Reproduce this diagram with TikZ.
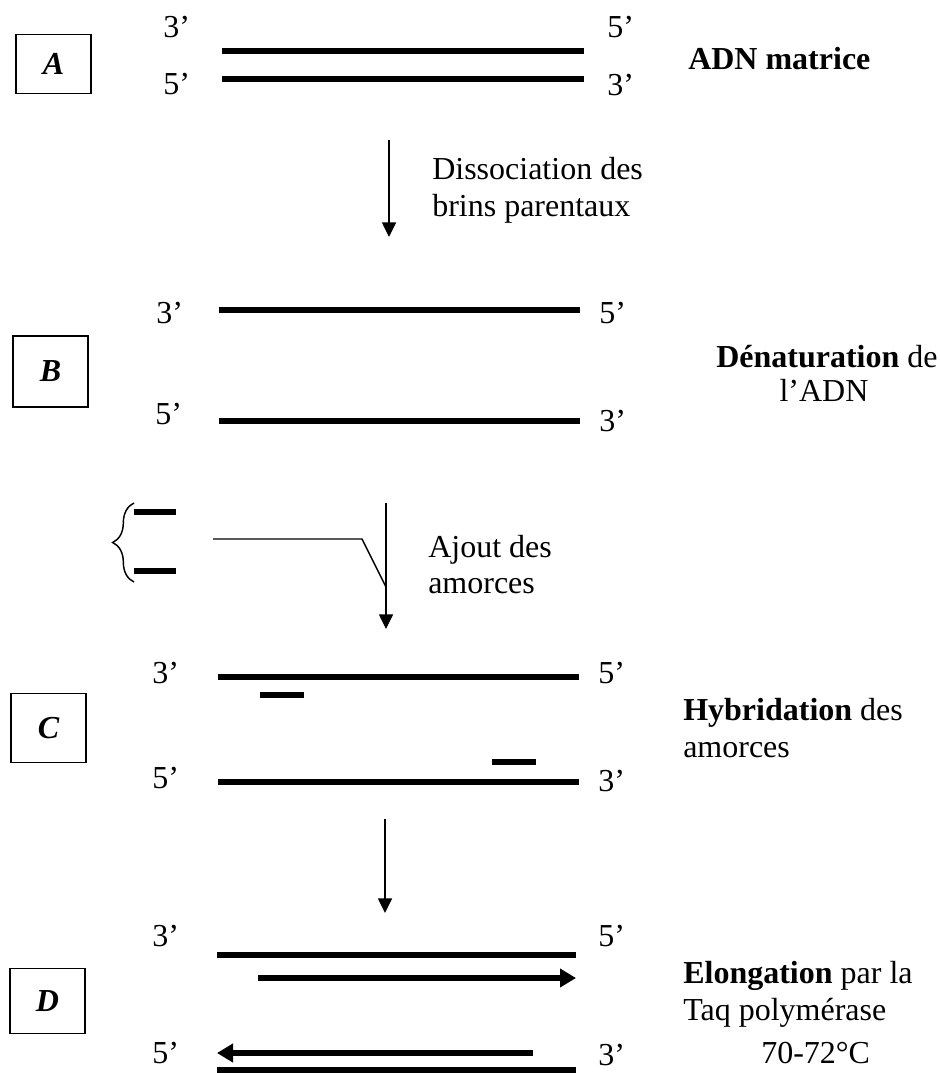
\documentclass[tikz,border=0pt]{standalone}
\usepackage{fontspec}
\setmainfont{Liberation Serif}
\usetikzlibrary{arrows.meta,decorations.pathreplacing}

\begin{document}
\begin{tikzpicture}[x=0.75pt,y=-0.75pt,
  txt/.style={anchor=base west, inner sep=0pt, font=\fontsize{24}{27}\selectfont},
  ctxt/.style={anchor=base, inner sep=0pt, font=\fontsize{24}{27}\selectfont},
  stepbox/.style={draw, line width=1.1pt, minimum width=56pt, inner sep=0pt,
                  font=\fontsize{24}{27}\selectfont\bfseries\itshape},
  strand/.style={line width=4.8pt},
  primer/.style={line width=3.9pt},
  newstrand/.style={line width=3.8pt, -{Triangle[width=13.5pt,length=12pt]}},
  flow/.style={line width=1.1pt, -{Triangle[width=10.5pt,length=11pt]}},
  thin/.style={line width=1.1pt}]
\useasboundingbox (0,0) rectangle (939,1073);

% ---------- A : template DNA ----------
\node[stepbox, minimum height=44pt] (boxA) at (53.5,64) {A};
\node[txt] (a3l) at (163,38) {3’};
\node[txt] (a5l) at (163,95) {5’};
\node[txt] (a5r) at (607,38) {5’};
\node[txt] (a3r) at (607,96) {3’};
\coordinate (a1s) at (222,51);  \coordinate (a1e) at (584,51);
\coordinate (a2s) at (222,79);  \coordinate (a2e) at (584,79);
\draw[strand] (a1s) -- (a1e);
\draw[strand] (a2s) -- (a2e);
\node[txt, font=\fontsize{24}{27}\selectfont\bfseries] (titleA) at (688,70) {ADN matrice};

% ---------- arrow A -> B ----------
\coordinate (f1s) at (389,140); \coordinate (f1e) at (389,237);
\draw[flow] (f1s) -- (f1e);
\node[txt] (f1a) at (432,180) {Dissociation des};
\node[txt] (f1b) at (432,217) {brins parentaux};

% ---------- B : denaturation ----------
\node[stepbox, minimum height=53pt] (boxB) at (50.5,371.5) {B};
\node[txt] (b3l) at (156,323) {3’};
\node[txt] (b5r) at (599,323) {5’};
\node[txt] (b5l) at (155,424) {5’};
\node[txt] (b3r) at (599,431) {3’};
\coordinate (b1s) at (219,310); \coordinate (b1e) at (580,310);
\coordinate (b2s) at (219,421); \coordinate (b2e) at (580,421);
\draw[strand] (b1s) -- (b1e);
\draw[strand] (b2s) -- (b2e);
\node[txt, font=\fontsize{24}{27}\selectfont] (titleB1) at (716,367) {\textbf{Dénaturation} de};
\node[ctxt] (titleB2) at (824,401) {l’ADN};

% ---------- primers added ----------
\draw[thin, decorate, decoration={brace, amplitude=16pt}] (134,582) -- (134,503);
\coordinate (p1s) at (134,512); \coordinate (p1e) at (176,512);
\coordinate (p2s) at (134,571); \coordinate (p2e) at (176,571);
\draw[line width=4.3pt] (p1s) -- (p1e);
\draw[line width=4.3pt] (p2s) -- (p2e);
\coordinate (f2s) at (386,503); \coordinate (f2e) at (386,629);
\coordinate (j0) at (213,539); \coordinate (j1) at (362,539); \coordinate (j2) at (386,587);
\draw[thin] (j0) -- (j1) -- (j2);
\draw[flow] (f2s) -- (f2e);
\node[txt] (f2a) at (428,557) {Ajout des};
\node[txt] (f2b) at (428,593) {amorces};

% ---------- C : primer annealing ----------
\node[stepbox, minimum height=52pt] (boxC) at (48.5,728) {C};
\node[txt] (c3l) at (152,683) {3’};
\node[txt] (c5r) at (598,683) {5’};
\node[txt] (c5l) at (152,788) {5’};
\node[txt] (c3r) at (598,791) {3’};
\coordinate (c1s) at (218,677); \coordinate (c1e) at (579,677);
\coordinate (c2s) at (218,782); \coordinate (c2e) at (579,782);
\draw[strand] (c1s) -- (c1e);
\draw[strand] (c2s) -- (c2e);
\coordinate (cp1s) at (260,695); \coordinate (cp1e) at (304,695);
\coordinate (cp2s) at (492,762); \coordinate (cp2e) at (536,762);
\draw[primer] (cp1s) -- (cp1e);
\draw[primer] (cp2s) -- (cp2e);
\node[txt, font=\fontsize{24}{27}\selectfont] (titleC1) at (683,720) {\textbf{Hybridation} des};
\node[txt] (titleC2) at (683,757) {amorces};

% ---------- arrow C -> D ----------
\coordinate (f3s) at (385,819); \coordinate (f3e) at (385,913);
\draw[flow] (f3s) -- (f3e);

% ---------- D : elongation ----------
\node[stepbox, minimum height=49pt] (boxD) at (47.5,1001) {D};
\node[txt] (d3l) at (152,946) {3’};
\node[txt] (d5r) at (598,946) {5’};
\node[txt] (d5l) at (152,1063) {5’};
\node[txt] (d3r) at (598,1065) {3’};
\coordinate (d1s) at (217,955);  \coordinate (d1e) at (576,955);
\coordinate (d2s) at (217,1070); \coordinate (d2e) at (576,1070);
\draw[strand] (d1s) -- (d1e);
\draw[strand] (d2s) -- (d2e);
\coordinate (n1s) at (258,978);  \coordinate (n1e) at (576,978);
\coordinate (n2s) at (533,1053); \coordinate (n2e) at (217,1053);
\draw[newstrand] (n1s) -- (n1e);
\draw[newstrand] (n2s) -- (n2e);
\node[txt, font=\fontsize{24}{27}\selectfont] (titleD1) at (683,983) {\textbf{Elongation} par la};
\node[txt] (titleD2) at (683,1020) {Taq polymérase};
\node[txt] (titleD3) at (761,1063) {70-72°C};
\end{tikzpicture}
\end{document}
